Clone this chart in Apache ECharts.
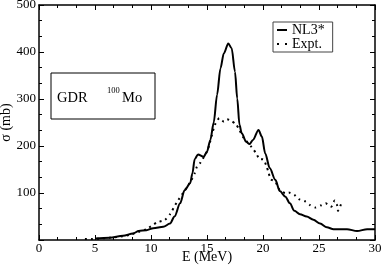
<!DOCTYPE html>
<html><head><meta charset="utf-8">
<script src="https://cdn.jsdelivr.net/npm/echarts@6/dist/echarts.min.js"></script>
<style>html,body{margin:0;padding:0;background:#fff}#c{width:382px;height:269px}</style>
</head><body><div id="c"></div>
<script>
const nl3E = [5,6.3,7.5,8.4,8.9,9.6,10.2,11.1,11.7,12.1,12.6,13.0,13.5,13.7,13.9,14.2,14.7,15.0,15.3,15.6,15.9,16.2,16.5,16.9,17.2,17.5,17.7,17.9,18.1,18.5,18.8,19.1,19.6,19.9,20.2,20.6,21.1,21.5,22.0,22.4,22.8,23.3,23.9,24.5,25.1,25.7,26.3,27.5,28.4,29.3,30];
const nl3S = [3,5,9,14,19,21,25,28,35,50,78,106,121,142,172,182,177,188,213,250,309,365,397,418,408,358,301,245,227,209,204,213,234,220,184,153,128,104,92,78,62,55,50,43,35,27,23,23,19,23,23];
const expE = [4.1,4.7,5.5,6.3,7.2,8.1,9.0,9.6,10.5,11.25,11.7,12.3,13.0,13.6,13.9,14.1,14.4,15.0,15.2,15.4,15.7,16.1,16.5,16.8,17.2,17.6,17.9,18.2,18.5,19.0,19.4,19.7,20.0,20.3,20.5,20.7,21.1,21.5,22.0,22.3,22.8,23.2,23.7,24.2,24.7,25.2,25.6,26.1,26.4,26.6,26.7,27.0];
const expS = [2,2,3,5,7,11,18,23,37,43,55,80,105,127,142,156,164,188,202,220,245,259,252,257,253,246,234,220,211,197,184,172,172,158,143,129,124,106,100,101,96,87,83,74,69,74,78,71,84,76,62,78];
const xTicks = [0,5,10,15,20,25,30];
const yTicks = [100,200,300,400,500];

const font = 'Liberation Serif';
const chart = echarts.init(document.getElementById('c'));
function ax(extra){
  return Object.assign({
    type:'value',
    nameMoveOverlap:false,
    axisLine:{show:true,onZero:false,lineStyle:{color:'#000',width:1.5}},
    axisTick:{show:true,inside:true,length:5,lineStyle:{color:'#000'}},
    minorTick:{show:true,splitNumber:3,length:3,lineStyle:{color:'#000'}},
    splitLine:{show:false}
  }, extra);
}
chart.setOption({
  animation:false,
  grid:{left:39,right:7,top:5,bottom:29,containLabel:false,outerBoundsMode:'none'},
  legend:{
    show:true, orient:'vertical', left:273, top:22, padding:[1,8,1,4],
    borderColor:'#444', borderWidth:1, itemGap:0, itemWidth:10, itemHeight:14,
    textStyle:{fontFamily:font,fontSize:14,color:'#000'},
    data:[
      {name:'NL3*',icon:'path://M0,0h10v2h-10z'},
      {name:'Expt.',icon:'path://M0,0h2v2h-2zM8,0h2v2h-2z'}
    ]
  },
  xAxis:[
    ax({min:0,max:30,interval:5,position:'bottom',
      name:'E (MeV)',nameLocation:'middle',nameGap:10,
      nameTextStyle:{fontFamily:font,fontSize:14,color:'#000',verticalAlign:'top'},
      axisLabel:{fontFamily:font,fontSize:13,color:'#000',margin:2,
        formatter:v=>xTicks.indexOf(v)>=0?String(v):''}}),
    ax({min:0,max:30,interval:5,position:'top',axisLabel:{show:false}})
  ],
  yAxis:[
    ax({min:0,max:500,interval:100,position:'left',
      name:'σ (mb)',nameLocation:'middle',nameGap:26,nameRotate:90,
      nameTextStyle:{fontFamily:font,fontSize:14,color:'#000'},
      axisLabel:{fontFamily:font,fontSize:13,color:'#000',margin:3,
        formatter:v=>yTicks.indexOf(v)>=0?String(v):''}}),
    ax({min:0,max:500,interval:100,position:'right',axisLabel:{show:false}})
  ],
  series:[
    {name:'NL3*',type:'line',smooth:0.3,smoothMonotone:'x',symbol:'none',xAxisIndex:0,yAxisIndex:0,
      data:nl3E.map((e,i)=>[e,nl3S[i]]),
      lineStyle:{color:'#000',width:2},itemStyle:{color:'#000'}},
    {name:'Expt.',type:'line',smooth:0.2,symbol:'none',xAxisIndex:0,yAxisIndex:0,
      data:expE.map((e,i)=>[e,expS[i]]),
      lineStyle:{color:'#000',width:2,type:[2,4]},itemStyle:{color:'#000'}}
  ],
  graphic:[
    {type:'rect',shape:{x:51,y:73,width:104,height:46},style:{fill:'#fff',stroke:'#000',lineWidth:1}},
    {type:'text',x:57,y:91,style:{text:'GDR',font:'14.5px "Liberation Serif"',fill:'#000'}},
    {type:'text',x:107,y:86,style:{text:'100',font:'8.5px "Liberation Serif"',fill:'#000'}},
    {type:'text',x:122,y:91,style:{text:'Mo',font:'14.5px "Liberation Serif"',fill:'#000'}}
  ]
});
</script></body></html>
